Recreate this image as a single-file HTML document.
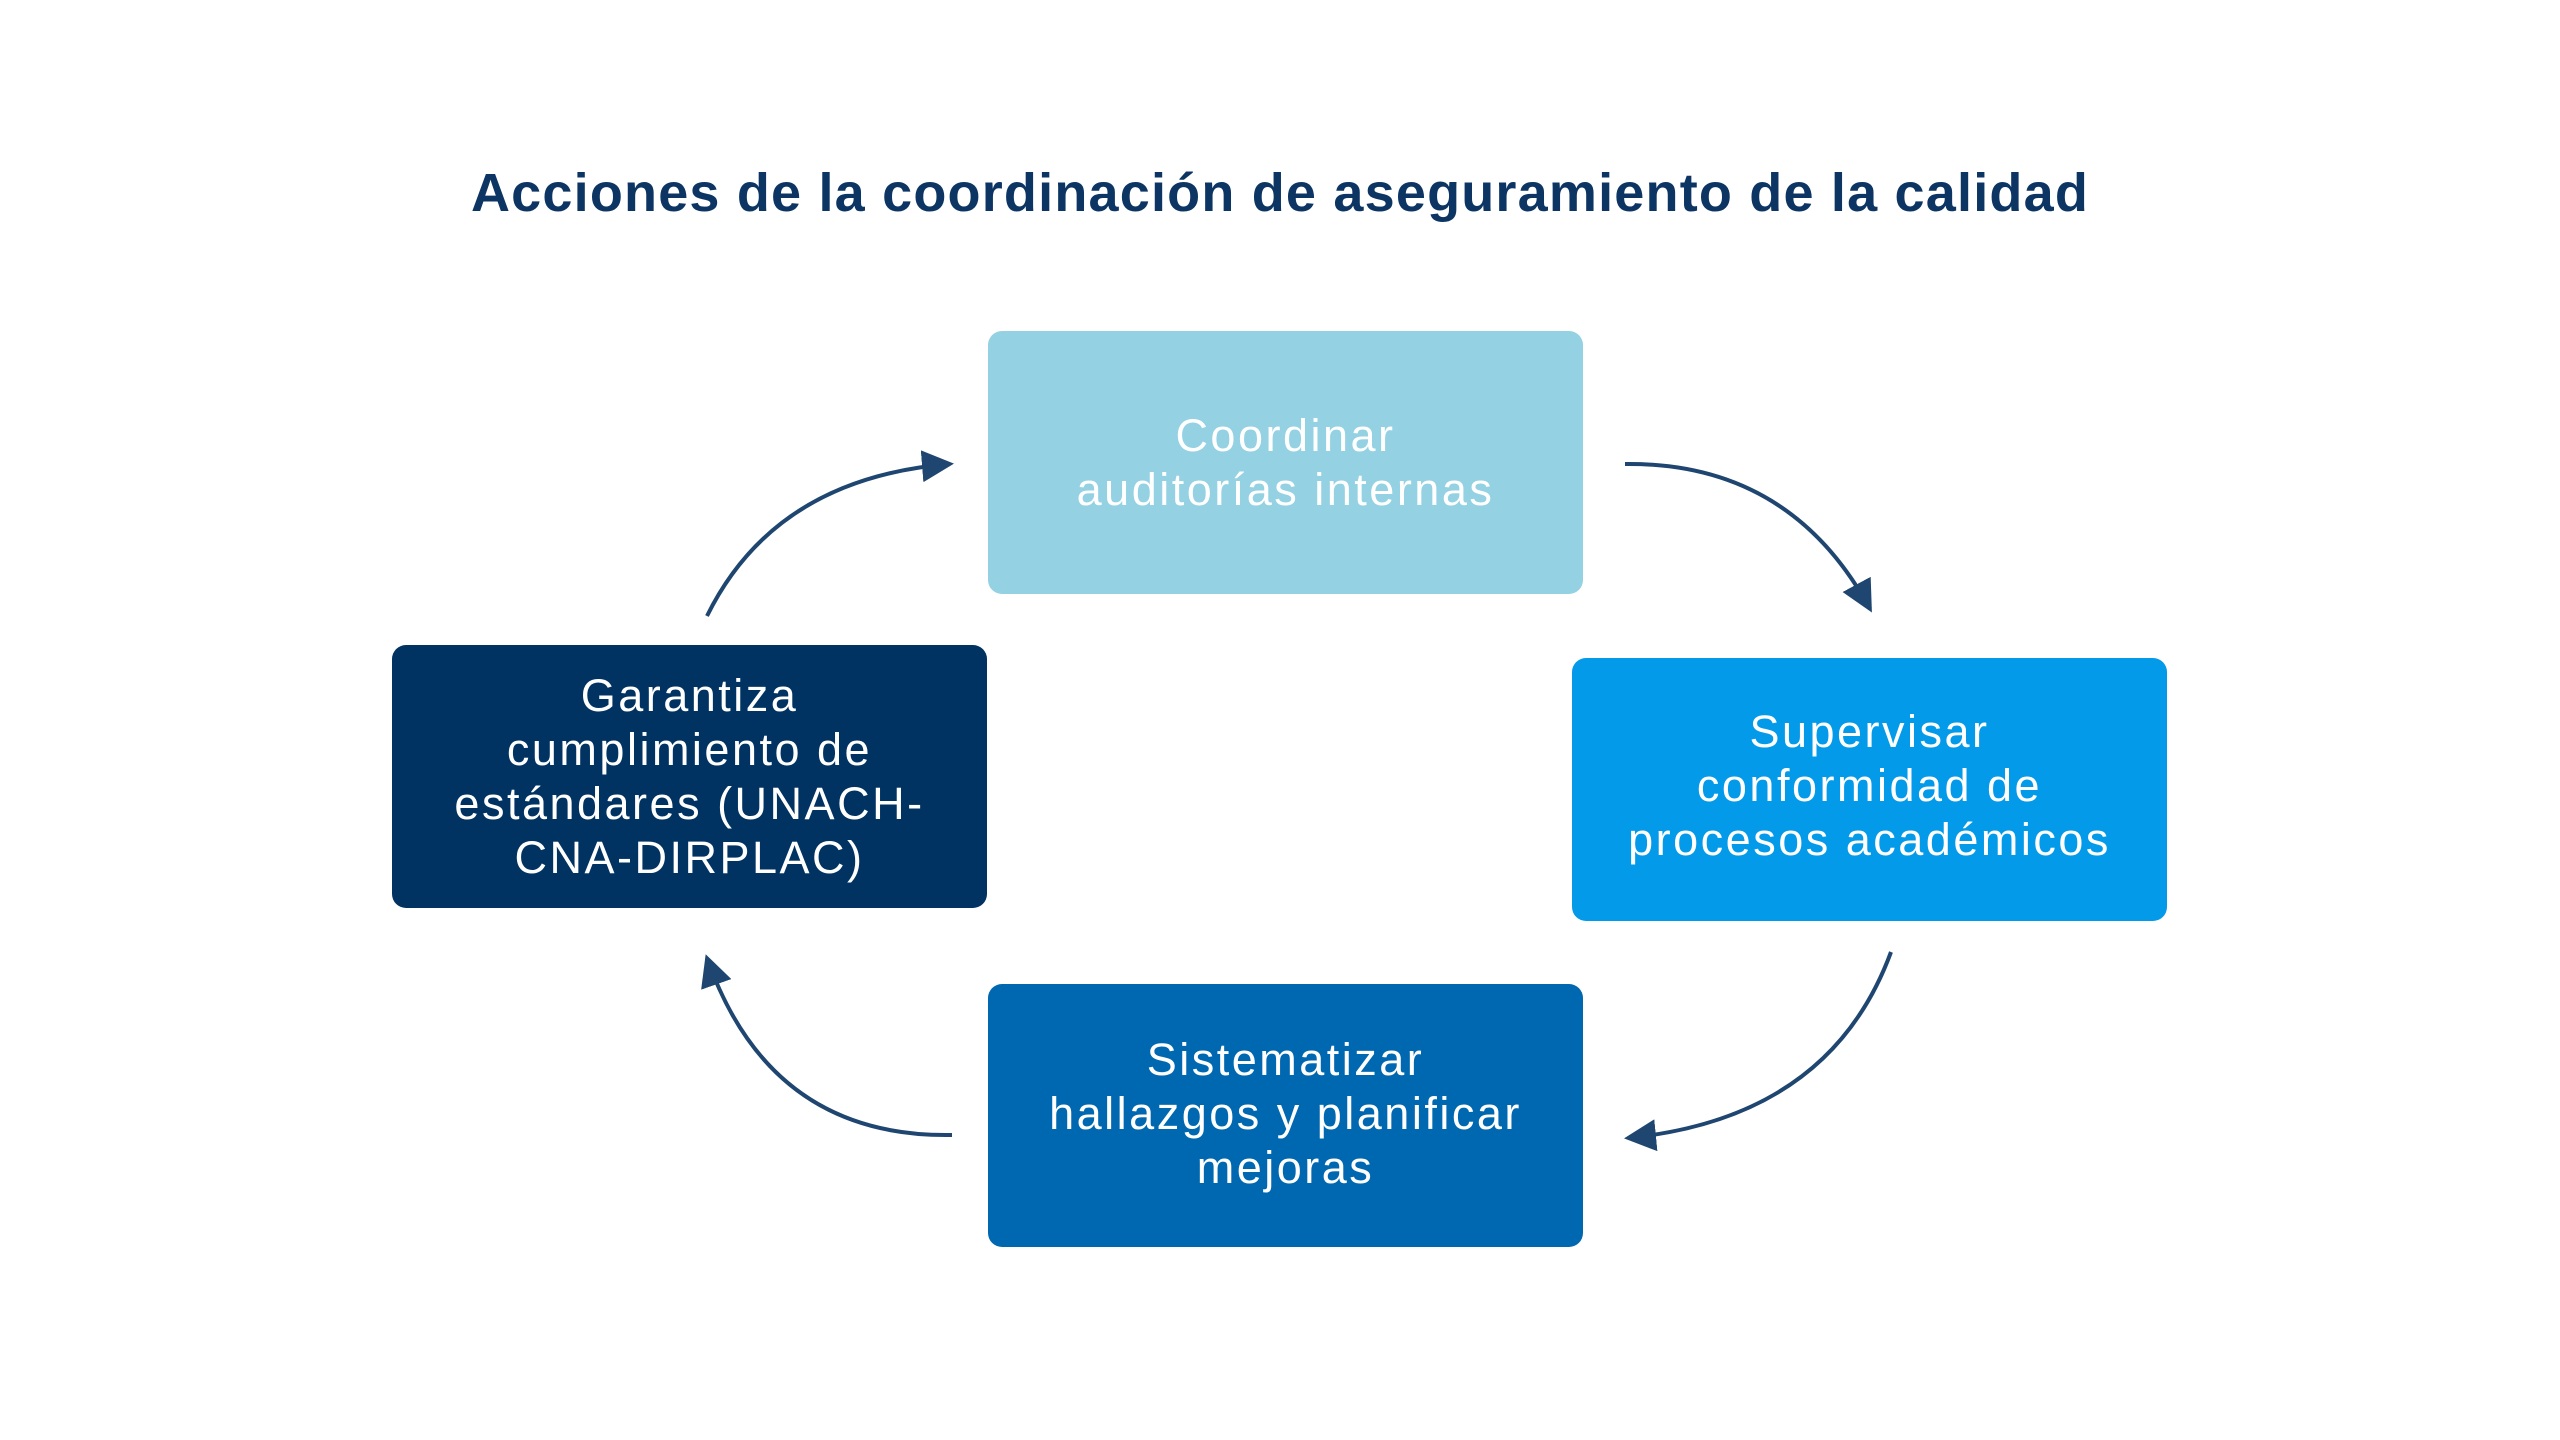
<!DOCTYPE html>
<html><head><meta charset="utf-8"><style>
body{margin:0;width:2560px;height:1440px;background:#fff;position:relative;overflow:hidden;font-family:"Liberation Sans",sans-serif}
.t{position:absolute;left:0;width:2560px;top:162px;text-align:center;font-weight:bold;font-size:54px;letter-spacing:1.2px;color:#0d3563}
.b{position:absolute;width:595px;height:263px;border-radius:14px;display:flex;align-items:center;justify-content:center;text-align:center;color:#fff;font-size:45px;letter-spacing:2.5px;line-height:54px}
</style></head><body>
<div class="t">Acciones de la coordinación de aseguramiento de la calidad</div>
<div class="b" style="left:988px;top:331px;background:#93d1e3">Coordinar<br>auditorías internas</div>
<div class="b" style="left:1572px;top:658px;background:#039aea;padding-bottom:8px;box-sizing:border-box">Supervisar<br>conformidad de<br>procesos académicos</div>
<div class="b" style="left:988px;top:984px;background:#0068b0;padding-bottom:4px;box-sizing:border-box">Sistematizar<br>hallazgos y planificar<br>mejoras</div>
<div class="b" style="left:392px;top:645px;background:#003262">Garantiza<br>cumplimiento de<br>estándares (UNACH-<br>CNA-DIRPLAC)</div>
<svg width="2560" height="1440" style="position:absolute;left:0;top:0">
<defs><marker id="a" markerWidth="8" markerHeight="8" refX="7" refY="4" orient="auto" markerUnits="strokeWidth"><path d="M0,0L8,4L0,8z" fill="#1f4670"/></marker></defs>
<g fill="none" stroke="#1f4670" stroke-width="4" marker-end="url(#a)">
<path d="M1625,464 Q1790,462 1870,609"/>
<path d="M1891,952 Q1830,1118 1628,1138"/>
<path d="M952,1135 Q770,1138 707,958"/>
<path d="M707,616 Q775,478 950,464"/>
</g></svg>
</body></html>
